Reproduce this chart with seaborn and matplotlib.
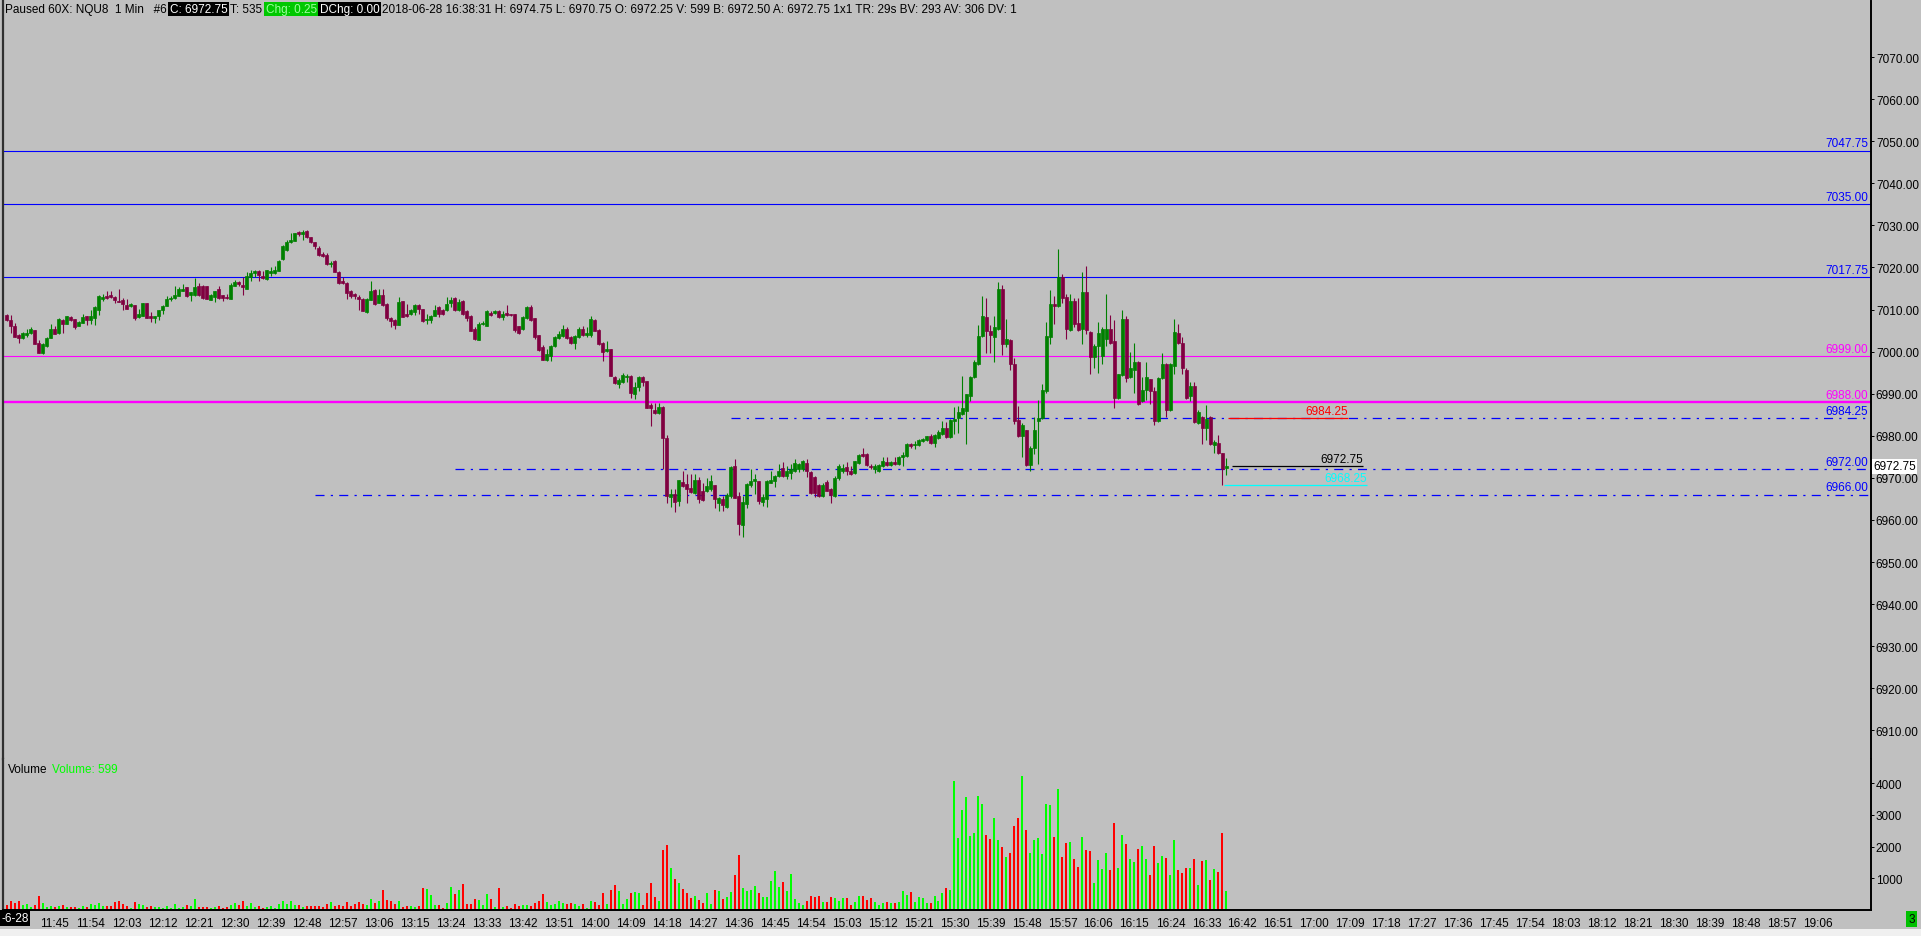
import numpy as np
import pandas as pd
import seaborn as sns
import matplotlib.pyplot as plt
from matplotlib.patches import Rectangle
from matplotlib.transforms import blended_transform_factory

# --- data: NQU8 1-minute bars, 2018-06-28, first bar 11:33 ---
first_bar = 11 * 60 + 33

opens = [
    7008.75, 7007.5, 7006, 7004, 7003.25, 7004, 7004.5, 7005.25, 7002, 6999.75,
    7001.25, 7003.25, 7005.5, 7004.5, 7007.5, 7006.5, 7008.25, 7007.75, 7006, 7006.75,
    7008.5, 7007.5, 7008, 7010, 7012.5, 7013.25, 7013.5, 7013, 7012, 7012.25,
    7011, 7010.75, 7011, 7008.25, 7008.5, 7011.5, 7008.5, 7008, 7008.5, 7010,
    7010.75, 7012.5, 7012.75, 7013.25, 7014.5, 7015.25, 7013.5, 7013.5, 7015.5, 7015.5,
    7015.5, 7012.25, 7013, 7015, 7013.5, 7013, 7012.5, 7015.5, 7016.5, 7015.75,
    7015, 7017.75, 7018.75, 7019.25, 7018, 7017.25, 7018.75, 7018.75, 7019.25, 7022,
    7024.25, 7026, 7026.25, 7028.5, 7028, 7028.75, 7027.25, 7026, 7024.75, 7023.25,
    7023, 7020.75, 7021.5, 7019, 7016.75, 7016.25, 7014.5, 7013.75, 7013, 7012.5,
    7009.5, 7012.25, 7014.75, 7011.5, 7013.5, 7011.25, 7008, 7007.5, 7006.25, 7012,
    7009, 7009, 7009.5,
    7011, 7010.25, 7007.5, 7007.5, 7008.5, 7010.5, 7010, 7010, 7011.5, 7012.75,
    7010, 7012, 7009.75, 7008.5, 7005.5, 7002.75, 7006.5, 7006, 7009.25, 7009.25,
    7009.75, 7008.25, 7009.25, 7009, 7009, 7006, 7005.5, 7008, 7010.5, 7008,
    7004, 7001, 6998, 6999, 7001.25, 7003.25, 7003.75, 7005.5, 7003.5, 7002,
    7003.5, 7005.5, 7004, 7004, 7007.5, 7005.25, 7002, 7000.25, 7000.75, 6994,
    6992.25, 6992.75, 6994, 6994.25, 6990, 6991.5, 6994, 6993, 6987.25, 6986.25,
    6985.5, 6986.75, 6979.5, 6965.5, 6966.25, 6964.5, 6969, 6968.5, 6967.5, 6966.5,
    6969.5, 6967, 6967, 6967.25, 6968.25, 6964, 6965, 6963, 6965.75, 6972.75,
    6965.75, 6958.75, 6963.75, 6968.25, 6969.25, 6969.25, 6964.25, 6965, 6968.75, 6969.25,
    6970.5, 6972.25, 6970.5, 6971.25, 6971.75, 6972, 6972, 6973.5, 6971.5, 6970.25,
    6968.25, 6965.75, 6969, 6967.25, 6965.75, 6970, 6971.75, 6972.5, 6971.75, 6971.25,
    6973.5, 6975.75, 6975.75, 6972.75, 6972, 6971.75, 6972.75, 6973.75, 6973, 6973.75,
    6973.25, 6975, 6975.25, 6978, 6977.75, 6977.75, 6978.75, 6979, 6980, 6978.25,
    6979.5, 6980.5, 6981.75, 6979.75, 6983.5, 6984.25, 6985.25, 6986, 6989.5, 6994,
    6997, 7003.75, 7008.25, 7005, 7003.5, 7005.5, 7015, 7001.75, 7002.75, 6997,
    6983.75, 6980, 6981.5, 6973, 6977, 6983.5, 6984.25, 6990.75, 7003.5, 7011.25,
    7010.75, 7017.75, 7013, 7005.25, 7012, 7006.75, 7005.5, 7014.25, 7004.75, 6998.75,
    7001.25, 6999, 7003, 7005.5, 7002.5, 6989, 6994.5, 7007.75, 6994, 6995.75,
    6997.5, 6988.25, 6991, 6993.5, 6990.75, 6983.5, 6993.75, 6997, 6986.25, 6996.5,
    7004.5, 7002, 6995.75, 6989.5, 6991.75, 6983, 6984.5, 6981.75, 6984.5, 6977.75,
    6978.25, 6976, 6972.25,
]

highs = [
    7009, 7008.75, 7006.75, 7004.25, 7004.75, 7005.5, 7005.75, 7005.25, 7002.75, 7002,
    7003.5, 7006.5, 7006, 7008, 7007.75, 7008.5, 7008.5, 7007.75, 7007.25, 7009,
    7008.5, 7010, 7010.75, 7013.5, 7013.75, 7014.5, 7014.5, 7013.25, 7015, 7012.75,
    7012.5, 7011.5, 7011, 7010.25, 7011.5, 7011.5, 7009.5, 7008.5, 7010, 7011,
    7013.25, 7013.25, 7015.5, 7015.25, 7016, 7015.25, 7014.25, 7017.5, 7016.25, 7015.75,
    7015.5, 7013.75, 7014.5, 7015.5, 7013.5, 7013.75, 7016.25, 7017, 7016.75, 7017.75,
    7019, 7019.5, 7019.5, 7019.5, 7019.25, 7019.5, 7020, 7020.25, 7021.75, 7025.25,
    7026.5, 7028.25, 7028.25, 7028.75, 7029, 7029, 7027.25, 7026, 7025, 7023.75,
    7023.5, 7021.5, 7021.75, 7019.25, 7017.75, 7016.5, 7014.75, 7014, 7013.5, 7012.75,
    7012.75, 7016.75, 7015, 7015, 7015, 7011.5, 7008.25, 7007.75, 7013, 7012,
    7011.25, 7010.25, 7011.25,
    7011.25, 7010.25, 7009, 7008.75, 7011, 7010.75, 7010.25, 7013, 7013, 7013,
    7012.5, 7012.25, 7010, 7008.75, 7005.75, 7007, 7007.25, 7010, 7009.75, 7010,
    7010, 7009.75, 7011, 7009, 7009, 7006, 7008.5, 7010.75, 7011, 7008,
    7004, 7001.5, 7000.75, 7001.5, 7003.75, 7005, 7006.25, 7005.75, 7003.75, 7004,
    7005.75, 7006, 7005.75, 7008.5, 7007.75, 7005.5, 7002.25, 7002.5, 7000.75, 6994.25,
    6993.75, 6995, 6994.75, 6994.5, 6992.75, 6994.25, 6994.25, 6993, 6987.75, 6987.75,
    6987.75, 6987, 6980.25, 6967.25, 6967.25, 6969.5, 6971.75, 6971, 6971, 6971,
    6970.25, 6968.75, 6970, 6970.75, 6968.25, 6965.5, 6965.75, 6966.5, 6972.75, 6974.5,
    6966.75, 6965.75, 6968.75, 6972, 6971, 6969.25, 6966.25, 6969.5, 6971.75, 6970.75,
    6973.25, 6973.75, 6972.75, 6973.25, 6974.5, 6973.5, 6974.25, 6974.5, 6971.75, 6970.5,
    6968.5, 6968.75, 6969.5, 6967.5, 6970.5, 6973.25, 6973.25, 6973.75, 6972.75, 6974,
    6975.75, 6977, 6976, 6973.25, 6973.25, 6973.25, 6975, 6975, 6974, 6975,
    6975.25, 6976.25, 6978.25, 6978.25, 6978.75, 6979.25, 6979.5, 6980, 6980.5, 6980.5,
    6981.5, 6983.5, 6983.25, 6984, 6986.75, 6987, 6994.25, 6990, 6994.25, 6998,
    7006.25, 7013.25, 7012.75, 7006.25, 7008.5, 7016.5, 7015.75, 7007.75, 7003, 6998.5,
    6987, 6983, 6981.5, 6977.5, 6984.5, 6988.5, 6992.25, 7007, 7014.75, 7013.25,
    7024.5, 7018.5, 7013.75, 7013.75, 7012.75, 7012.75, 7019, 7020.25, 7005, 7001.75,
    7007, 7005.75, 7013.75, 7008.75, 7007.5, 6994.75, 7010, 7008.5, 7000, 7002,
    6997.75, 6994, 6997.5, 6993.5, 6991.5, 6994, 6999.75, 6997.25, 6997.25, 7007.75,
    7006.5, 7003.5, 6996, 6992.75, 6992.75, 6986.25, 6984.75, 6987.25, 6984.75, 6979,
    6980.25, 6976, 6974.75,
]

lows = [
    7007.25, 7004.5, 7003.5, 7002, 7003, 7003.5, 7004.25, 7001.75, 6999.75, 6999.5,
    7001, 7003.25, 7004.25, 7004.25, 7004.5, 7006.5, 7007.25, 7005.5, 7006, 7006.75,
    7006.25, 7006.5, 7006.25, 7008.75, 7012, 7012.5, 7012.75, 7011.5, 7011.75, 7010,
    7010.25, 7010.5, 7007.5, 7008, 7008.5, 7008, 7007, 7006.75, 7007.5, 7009,
    7010.75, 7012, 7012.5, 7013.25, 7014.5, 7013, 7012, 7013.25, 7013.25, 7012.5,
    7012.5, 7012.25, 7011.75, 7012.5, 7012, 7012.5, 7012.5, 7015.5, 7015.5, 7013.5,
    7015, 7016.75, 7017.75, 7016.75, 7017.25, 7017, 7018, 7018.5, 7019.25, 7021.75,
    7024, 7025.75, 7026.25, 7027.5, 7026.5, 7027, 7025.75, 7024.5, 7022.75, 7022.5,
    7020.5, 7020, 7019, 7016, 7016, 7012.5, 7012.75, 7012.5, 7010, 7009.75,
    7009.25, 7012.25, 7011, 7011.5, 7010.75, 7007.5, 7005.75, 7005.5, 7006.25, 7008.25,
    7008.25, 7008.75, 7008.75,
    7009, 7007, 7006.5, 7006.75, 7008.5, 7008.25, 7008.75, 7009.75, 7010.5, 7009.75,
    7009.75, 7008.75, 7007.25, 7005, 7002.75, 7002.75, 7006.25, 7006, 7008.5, 7009,
    7008, 7007.5, 7008.5, 7008.5, 7004.75, 7004.25, 7005.25, 7007.75, 7007.25, 7003,
    7000.25, 6998, 6997.75, 6997.75, 7001, 7003, 7003.5, 7003, 7001.75, 7000.75,
    7003.25, 7003.75, 7003.5, 7003.5, 7005, 7001.5, 6997.75, 7000, 6994.25, 6992.25,
    6991.25, 6992.5, 6992.75, 6989, 6988.75, 6990.75, 6991.75, 6986.5, 6982.25, 6985.25,
    6985.25, 6972, 6964, 6963, 6962, 6963.25, 6967.75, 6964, 6966.5, 6966.25,
    6964, 6964.5, 6966.75, 6967, 6962.75, 6962.25, 6962.25, 6962.75, 6965.25, 6965.25,
    6956.5, 6956, 6962.75, 6967.75, 6966.25, 6963.75, 6963.25, 6963, 6968.75, 6967.75,
    6970.25, 6970.25, 6969.75, 6969.75, 6971.5, 6971.5, 6971.75, 6970.25, 6966.25, 6965.5,
    6965.5, 6965.5, 6967, 6964, 6965.5, 6969.5, 6971.25, 6970.75, 6970.75, 6971,
    6973.25, 6975, 6972.75, 6972, 6971.25, 6971.5, 6972.5, 6972.75, 6972.75, 6973,
    6973, 6972.75, 6975, 6977, 6976.75, 6977.5, 6978.5, 6978.75, 6978, 6977.25,
    6979.25, 6980.25, 6979.5, 6979.5, 6980.5, 6980.75, 6985, 6978, 6988.25, 6993.75,
    6996.75, 7003.5, 6999.75, 6999.75, 6997.5, 7005.25, 6999.25, 7001, 6995.75, 6982.75,
    6979.75, 6975, 6972.75, 6971.75, 6975.75, 6973.25, 6984, 6990.25, 7001.75, 7006.5,
    7010.5, 7011.5, 7003, 7005, 7005.75, 7005, 7001.75, 7004.25, 6994.75, 6996,
    6995, 6997, 7001.25, 7001.75, 6986.5, 6988.75, 6994.25, 6992.75, 6993.75, 6990.25,
    6987.25, 6988, 6988.5, 6987.5, 6982.5, 6983.25, 6993.5, 6984.5, 6986, 6994.75,
    7001.75, 6994.75, 6988.75, 6988.25, 6983, 6982.75, 6978, 6979, 6977.75, 6976,
    6975.75, 6968.25, 6970.75,
]

closes = [
    7007.5, 7006, 7003.5, 7003.25, 7004.5, 7004.5, 7005.5, 7001.75, 6999.75, 7001.75,
    7003.25, 7005.5, 7004.25, 7007.75, 7006.5, 7008.5, 7007.5, 7005.75, 7007, 7008.25,
    7007.5, 7008.5, 7010.5, 7013.25, 7013, 7012.75, 7013, 7012.25, 7011.75, 7011.25,
    7010.25, 7011.25, 7008, 7009, 7011.5, 7008, 7008, 7008.5, 7010, 7010.75,
    7012.5, 7012.75, 7013.5, 7015, 7015, 7013.25, 7014.25, 7015.25, 7013.5, 7012.75,
    7012.5, 7013.5, 7014.5, 7012.75, 7012.75, 7012.75, 7015.75, 7016.5, 7016, 7015.25,
    7018, 7018.75, 7019.25, 7018.25, 7017.5, 7019.5, 7019.25, 7019.5, 7021.5, 7025,
    7026, 7026.5, 7028.25, 7028, 7028.5, 7027.25, 7026, 7025, 7023, 7022.75,
    7020.75, 7021, 7019, 7016.25, 7016.25, 7014, 7013.25, 7013.25, 7012.5, 7009.75,
    7012.5, 7014.5, 7011.25, 7013.5, 7011, 7008, 7007.25, 7006.25, 7011.75, 7008.25,
    7008.5, 7010, 7011,
    7010.25, 7007.25, 7007.75, 7008.5, 7010, 7009, 7009, 7011.25, 7012.25, 7010,
    7011.75, 7009, 7008, 7005, 7003, 7006.5, 7006.75, 7009.75, 7008.75, 7009.75,
    7008.25, 7009, 7008.75, 7008.75, 7005.25, 7004.5, 7008.25, 7010.5, 7007.5, 7003.5,
    7000.5, 6998, 6999.5, 7001.25, 7003.5, 7004.25, 7005.5, 7003.25, 7002, 7003.75,
    7005.5, 7004, 7004.5, 7007.75, 7005, 7001.75, 7000, 7000.75, 6994.25, 6992.5,
    6993.25, 6994.5, 6994.25, 6990.25, 6991.5, 6994, 6992.75, 6986.5, 6986.5, 6985.5,
    6986.75, 6979.5, 6965.75, 6966.25, 6964.25, 6969.5, 6968, 6967.25, 6966.75, 6969.5,
    6965, 6964.75, 6968, 6969.25, 6965, 6965.25, 6963.5, 6966, 6972.5, 6965.25,
    6959, 6964.25, 6968.5, 6969.25, 6969.75, 6964.5, 6965.5, 6969.25, 6969.5, 6970.5,
    6971.75, 6970.5, 6971.75, 6972, 6973.5, 6973.25, 6974, 6971.75, 6966.5, 6966.5,
    6965.75, 6968.25, 6967, 6966, 6970, 6972.75, 6972.25, 6971.75, 6971, 6974,
    6975.5, 6975.25, 6973, 6972.5, 6972.75, 6973, 6974, 6973, 6973.75, 6973.25,
    6975, 6975.5, 6978, 6977.5, 6978, 6979, 6979.25, 6980, 6978.25, 6980.25,
    6981, 6981.75, 6979.75, 6983.75, 6984, 6985.75, 6986.5, 6990, 6994, 6997.5,
    7003.75, 7008.5, 7005, 7004, 7005.75, 7015, 7001.75, 7003, 6997, 6983.5,
    6980, 6982.5, 6973, 6977, 6981.5, 6984.25, 6991, 7003.75, 7011.25, 7010.75,
    7017.75, 7012.75, 7005.5, 7012, 7006.5, 7005.25, 7014.25, 7005.25, 6998.75, 7001.25,
    7004.5, 7005.5, 7005.5, 7002, 6989, 6994.75, 7007.75, 6993.75, 6996, 6997.5,
    6987.5, 6991, 6994, 6990.75, 6983.5, 6993.75, 6997, 6986.25, 6997, 7004.75,
    7002, 6996, 6989, 6991.75, 6983.25, 6985.75, 6981.75, 6984, 6978, 6978.5,
    6976, 6972, 6972.75,
]

volumes = [
    158, 284, 220, 284, 168, 189, 105, 158, 441, 220,
    105, 126, 95, 126, 158, 95, 95, 95, 63, 126,
    95, 189, 158, 220, 126, 126, 126, 252, 284, 189,
    126, 63, 252, 189, 158, 95, 126, 95, 95, 63,
    126, 63, 189, 63, 95, 158, 126, 347, 95, 95,
    95, 63, 95, 126, 63, 95, 158, 220, 158, 284,
    126, 220, 95, 126, 63, 95, 126, 63, 189, 284,
    189, 284, 158, 158, 95, 126, 126, 126, 126, 95,
    189, 252, 126, 158, 126, 252, 126, 189, 252, 189,
    158, 347, 220, 284, 630, 315, 284, 189, 284, 95,
    126, 126, 95, 126, 693, 662, 473, 158, 158, 63,
    220, 725, 504, 630, 819, 189, 189, 347, 315, 158,
    504, 347, 95, 693, 95, 126, 63, 189, 126, 158,
    158, 126, 220, 284, 504, 252, 158, 189, 284, 220,
    189, 220, 189, 126, 189, 63, 284, 252, 158, 536,
    189, 630, 788, 599, 189, 347, 536, 567, 536, 158,
    536, 851, 410,
    273, 1890, 2048, 1323, 977, 851, 662, 536, 378, 441,
    315, 220, 536, 189, 630, 599, 347, 410, 567, 1103,
    1733, 693, 599, 630, 756, 536, 410, 410, 914, 1229,
    725, 882, 599, 1134, 347, 220, 158, 284, 441, 410,
    441, 252, 252, 410, 378, 284, 378, 378, 158, 252,
    441, 441, 315, 378, 252, 158, 220, 252, 220, 220,
    252, 599, 473, 567, 252, 410, 378, 220, 220, 441,
    284,
    536, 693, 630, 4064, 2268, 3150, 3560, 2331, 2426, 3591,
    3339, 2363, 2237, 2898, 2205, 1985, 1670, 1796, 2646, 2898,
    4221, 2520, 1796, 2205, 2268, 1764, 3339, 3308, 2300, 3812,
    1670, 2111, 2142, 1607, 1355, 2300, 1890, 1859, 851, 1575,
    1292, 1796, 1260, 2741, 1323, 2363, 2079, 1607, 1512, 1922,
    2016, 1607, 1103, 2016, 1481, 1701, 1638, 1103, 2205, 1260,
    1166, 1323, 1323, 1607, 788, 1544, 1575, 945, 1292, 1197,
    2426, 599,
]

# drawn price levels
level_prices = [7047.75, 7035.00, 7017.75, 6999.00, 6988.00, 6984.25, 6972.00, 6966.00]
level_colors = ['#0000ff', '#0000ff', '#0000ff', '#ff00ff', '#ff00ff', '#0000ff', '#0000ff', '#0000ff']
level_from = [None, None, None, None, None, '14:34', '13:25', '12:50']

# last-bar markers (price, colour)
marker_prices = [6984.25, 6972.75, 6968.25]
marker_colors = ['#ff0000', '#000000', '#00ffff']

header_parts = [
    ("Paused 60X: NQU8  1 Min   #6", 'black', None),
    ("C: 6972.75", 'white', 'black'),
    ("T: 535", 'black', None),
    ("Chg: 0.25", '#9cff9c', '#00c800'),
    ("DChg: 0.00", 'white', 'black'),
    ("2018-06-28 16:38:31 H: 6974.75 L: 6970.75 O: 6972.25 V: 599 B: 6972.50 "
     "A: 6972.75 1x1 TR: 29s BV: 293 AV: 306 DV: 1", 'black', None),
]

# --- style ---
GRAY = '#c0c0c0'
sns.set_style("white", {"axes.facecolor": GRAY, "figure.facecolor": GRAY})
plt.rcParams['font.family'] = ['Liberation Sans', 'DejaVu Sans']
plt.rcParams['lines.scale_dashes'] = False
FS = 8.5

W, H = 1921, 937
fig = plt.figure(figsize=(W / 100, H / 100), dpi=100)
ax = fig.add_axes([3 / W, 1 - 760 / H, 1868 / W, 758 / H])
axv = fig.add_axes([3 / W, 1 - 911 / H, 1868 / W, 151 / H])

df = pd.DataFrame({"open": opens, "high": highs, "low": lows, "close": closes, "volume": volumes})
df["minute"] = first_bar + np.arange(len(df))
df["dir"] = np.where(df["close"] >= df["open"], "up", "down")

def hm(s):
    h, m = s.split(":")
    return int(h) * 60 + int(m)

x0, x1 = hm("11:32"), hm("19:19") + 0.25

# --- candles ---
cand = df["dir"].map({"up": "#008000", "down": "#800040"})
ax.vlines(df["minute"], df["low"], df["high"], colors=cand, lw=0.8, zorder=3)
ax.bar(df["minute"], (df["close"] - df["open"]).abs(), bottom=df[["open", "close"]].min(axis=1),
       width=0.75, color=cand, edgecolor=cand, linewidth=0.5, zorder=4)

# --- levels ---
tr = blended_transform_factory(ax.transAxes, ax.transData)
for p, col, start in zip(level_prices, level_colors, level_from):
    if start is None:
        lw = 1.7 if p == 6988.00 else 0.8
        ax.axhline(p, color=col, lw=lw, zorder=2)
    else:
        ax.hlines(p, hm(start), x1, color=col, lw=0.9, linestyles=[(0, (6.5, 4.5, 1.6, 4.5))], zorder=2)
    ax.text(0.9985, p + 0.3, f"{p:.2f}", transform=tr, ha='right', va='bottom',
            color=col, fontsize=FS, zorder=5)

last = df["minute"].iloc[-1]
for p, col, (a, b) in zip(marker_prices, marker_colors, [(0.5, 30.5), (1.5, 34.25), (-0.5, 35.25)]):
    ax.hlines(p, last + a, last + b, color=col, lw=0.9, zorder=5)
    ax.text(last + b, p + 0.3, f"{p:.2f}", ha='right', va='bottom', color=col, fontsize=FS, zorder=5)

ax.set_xlim(x0, x1)
ax.set_ylim(6903.2, 7083.33)
ax.set_xticks([])
ax.yaxis.tick_right()
ax.set_yticks(np.arange(6910, 7071, 10))
ax.yaxis.set_major_formatter(plt.FuncFormatter(lambda v, _: f"{v:.2f}"))
ax.tick_params(axis='y', labelsize=FS, length=2.5, width=0.7, pad=1, colors='black')

# current price tag
ax.text(1.0012, closes[-1], f"{closes[-1]:.2f}", transform=tr, ha='left', va='center',
        fontsize=FS, color='black', clip_on=False, zorder=6,
        bbox=dict(boxstyle='square,pad=0.12', fc='white', ec='none'))

# --- volume ---
sns.barplot(data=df, x="minute", y="volume", hue="dir", palette={"up": "#00ff00", "down": "#ff0000"},
            native_scale=True, width=0.5, dodge=False, legend=False, errorbar=None,
            saturation=1, linewidth=0, ax=axv)
axv.set_xlim(x0, x1)
axv.set_ylim(0, 4758)
axv.set_xlabel("")
axv.set_ylabel("")
axv.yaxis.tick_right()
axv.set_yticks([1000, 2000, 3000, 4000])
axv.yaxis.set_major_formatter(plt.FuncFormatter(lambda v, _: f"{int(v)}"))
axv.tick_params(axis='y', labelsize=FS, length=2.5, width=0.7, pad=1, colors='black')
ticks = np.arange(hm("11:45"), hm("19:06") + 1, 9)
axv.set_xticks(ticks)
axv.set_xticklabels([f"{m // 60}:{m % 60:02d}" for m in ticks])
axv.tick_params(axis='x', labelsize=FS, length=3.5, width=1.0, pad=1.5, colors='black')

for a in (ax, axv):
    a.spines['top'].set_visible(False)
    a.spines['right'].set_color('black')
    a.spines['right'].set_linewidth(1.4)
    a.spines['left'].set_color('#303030')
    a.spines['left'].set_linewidth(1.6)
ax.spines['bottom'].set_visible(False)
axv.spines['bottom'].set_color('black')
axv.spines['bottom'].set_linewidth(1.4)

# --- texts ---
fig.text(1 / W, 1 - 919 / H, "-6-28", fontsize=FS, color='white', va='center',
         bbox=dict(boxstyle='square,pad=0.15', fc='black', ec='none'))
fig.patches.append(Rectangle((0, 0), 1, 7 / H, transform=fig.transFigure, fc='#f0f0f0', ec='none'))
fig.text(1911.5 / W, 1 - 920 / H, "3", fontsize=FS, color='black', ha='center', va='center',
         bbox=dict(boxstyle='square,pad=0.2', fc='#00c000', ec='none'))

fig.canvas.draw()
renderer = fig.canvas.get_renderer()

vol_lbl = fig.text(8 / W, 1 - 770 / H, "Volume", fontsize=FS, color='black', va='center')
vx = 8 + vol_lbl.get_window_extent(renderer).width + 5
fig.text(vx / W, 1 - 770 / H, "Volume: 599", fontsize=FS, color='#00ff00', va='center')

xpos = 5
for txt, fg, bg in header_parts:
    box = dict(boxstyle='square,pad=0.12', fc=bg, ec='none') if bg else None
    t = fig.text(xpos / W, 1 - 10 / H, txt, fontsize=FS, color=fg, va='center', ha='left', bbox=box)
    xpos += t.get_window_extent(renderer).width + 3

fig.savefig("out.png", dpi=100, facecolor=GRAY)
